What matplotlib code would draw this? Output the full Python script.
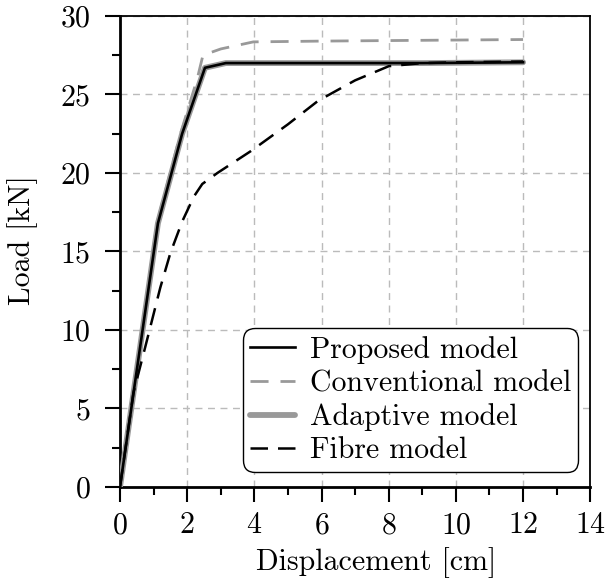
import matplotlib
matplotlib.use("Agg")
import matplotlib.pyplot as plt
from matplotlib.ticker import MultipleLocator

plt.rcParams.update({
    "font.family": "serif",
    "font.serif": ["cmr10"],
    "mathtext.fontset": "cm",
    "axes.formatter.use_mathtext": True,
    "font.size": 21.5,
})

# Load-displacement curves
prop_disp = [0.0, 1.13, 1.85, 2.53, 3.15, 6.0, 9.0, 12.0]
prop_load = [0.0, 16.8, 22.5, 26.7, 27.0, 27.0, 27.0, 27.05]

adapt_disp = [0.0, 1.13, 1.85, 2.53, 3.15, 6.0, 9.0, 12.0]
adapt_load = [0.0, 16.8, 22.5, 26.7, 27.0, 27.0, 27.0, 27.05]

conv_disp = [0.0, 1.1, 1.8, 2.3, 2.47, 3.0, 3.97, 6.0, 9.0, 12.0]
conv_load = [0.0, 16.8, 22.5, 26.0, 27.5, 27.9, 28.35, 28.4, 28.45, 28.5]

fibre_disp = [0.0, 0.4, 0.75, 1.2, 1.5, 1.85, 2.2, 2.45, 2.9, 3.9, 5.0, 5.9, 7.0, 8.0, 9.0, 10.0, 12.0]
fibre_load = [0.0, 6.0, 8.9, 12.7, 14.9, 16.9, 18.5, 19.3, 20.0, 21.4, 23.1, 24.6, 25.9, 26.8, 27.0, 27.05, 27.1]

x_ticks = [0, 2, 4, 6, 8, 10, 12, 14]
y_ticks = [0, 5, 10, 15, 20, 25, 30]

fig = plt.figure(figsize=(6.06, 5.81), dpi=100)
ax = fig.add_axes([0.198, 0.1618, 0.776, 0.8107])

ax.plot(adapt_disp, adapt_load, color="#999999", lw=4.2, solid_capstyle="round",
        label="Adaptive model", zorder=3)
ax.plot(prop_disp, prop_load, color="black", lw=1.9, label="Proposed model", zorder=4)
ax.plot(conv_disp, conv_load, color="#999999", lw=2.0, dashes=(6.5, 4.3),
        label="Conventional model", zorder=3)
ax.plot(fibre_disp, fibre_load, color="black", lw=1.8, dashes=(7, 4),
        label="Fibre model", zorder=5)

ax.set_xlim(0, 14)
ax.set_ylim(0, 30)
ax.set_xticks(x_ticks)
ax.set_yticks(y_ticks)
ax.xaxis.set_minor_locator(MultipleLocator(1))
ax.yaxis.set_minor_locator(MultipleLocator(2.5))
ax.tick_params(which="major", direction="out", length=11, width=1.5, top=False, right=False)
ax.tick_params(which="minor", direction="out", length=5.5, width=1.5, top=False, right=False)
ax.tick_params(axis="x", which="major", pad=7)
ax.tick_params(axis="y", which="major", pad=10)
ax.grid(True, which="major", color="#bbbbbb", linestyle=(0, (5, 4)), lw=1.0, zorder=0)

for side in ("left", "bottom"):
    ax.spines[side].set_linewidth(2.0)
for side in ("top", "right"):
    ax.spines[side].set_linewidth(1.3)

ax.set_xlabel("Displacement [cm]")
ax.set_ylabel("Load [kN]")
ax.xaxis.set_label_coords(0.545, -0.127)
ax.yaxis.set_label_coords(-0.175, 0.524)

handles, labels = ax.get_legend_handles_labels()
order = ["Proposed model", "Conventional model", "Adaptive model", "Fibre model"]
hmap = dict(zip(labels, handles))
leg = ax.legend([hmap[k] for k in order], order, loc="lower right",
                bbox_to_anchor=(0.975, 0.032), fancybox=True, framealpha=1,
                edgecolor="black", handlelength=1.5, handletextpad=0.5,
                borderpad=0.25, labelspacing=0.2, borderaxespad=0)
leg.get_frame().set_linewidth(1.0)
leg.get_frame().set_boxstyle("round,pad=0,rounding_size=0.4")

fig.savefig("out.png", dpi=100)
